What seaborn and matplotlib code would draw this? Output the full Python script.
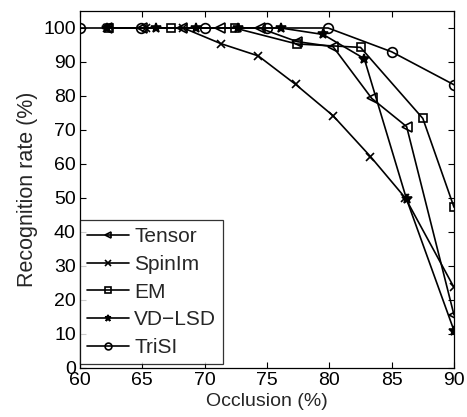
import matplotlib
matplotlib.use('Agg')
import matplotlib.pyplot as plt
import seaborn as sns

# occlusion (%) and recognition rate (%) per method
tensor_x = [62.2, 65.0, 68.2, 71.2, 74.4, 77.4, 80.3, 83.4, 86.2, 90.0]
tensor_y = [100, 100, 100, 100, 100, 96.0, 94.5, 79.3, 71.0, 15.6]

spinim_x = [62.2, 65.3, 68.3, 71.3, 74.3, 77.3, 80.3, 83.3, 86.1, 90.0]
spinim_y = [100, 100, 100, 95.4, 91.8, 83.4, 74.2, 62.2, 50.0, 23.7]

em_x = [62.3, 67.3, 72.4, 77.4, 82.5, 87.5, 90.0]
em_y = [100, 100, 100, 95.3, 94.3, 73.4, 47.3]

vdlsd_x = [62.2, 66.1, 69.3, 72.7, 76.1, 79.5, 82.8, 86.2, 90.0]
vdlsd_y = [100, 100, 100, 100, 100, 98.1, 91.0, 49.6, 11.0]

trisi_x = [60.0, 64.9, 70.0, 75.0, 79.9, 85.0, 90.0]
trisi_y = [100, 100, 100, 100, 100, 93.0, 83.3]

x_ticks = [60, 65, 70, 75, 80, 85, 90]
y_ticks = list(range(0, 101, 10))

sns.set_style('ticks')
plt.rcParams['font.family'] = ['Liberation Sans', 'DejaVu Sans']

fig = plt.figure(figsize=(4.67, 4.17), dpi=100)
ax = fig.add_axes([80 / 467, 49 / 417, 374 / 467, 357 / 417])

series = [
    ('Tensor', tensor_x, tensor_y, '<', 'none', 7),
    ('SpinIm', spinim_x, spinim_y, 'x', 'k', 6),
    ('EM', em_x, em_y, 's', 'none', 6),
    ('VD\u2212LSD', vdlsd_x, vdlsd_y, '*', 'k', 7),
    ('TriSI', trisi_x, trisi_y, 'o', 'none', 7),
]
for name, xs, ys, mk, face, ms in series:
    sns.lineplot(x=xs, y=ys, ax=ax, color='k', linewidth=1.2, marker=mk,
                 markersize=ms, markerfacecolor=face, markeredgecolor='k',
                 markeredgewidth=1.2, sort=False, label=name)

ax.set_xlim(60, 90)
ax.set_ylim(0, 105)
ax.set_xticks(x_ticks)
ax.set_yticks(y_ticks)
ax.tick_params(direction='in', top=True, right=True, labelsize=14,
               length=4, width=0.8, colors='k', pad=3)
for sp in ax.spines.values():
    sp.set_color('k')
    sp.set_linewidth(0.9)

ax.set_xlabel('Occlusion (%)', fontsize=14, labelpad=3)
ax.set_ylabel('Recognition rate (%)', fontsize=15.5, labelpad=4)

leg = ax.legend(loc='lower left', bbox_to_anchor=(0, 0.01), borderaxespad=0,
                fontsize=15, frameon=True, fancybox=False, markerscale=0.7,
                handlelength=2.0, handletextpad=0.25, labelspacing=0.42,
                borderpad=0.35)
leg.get_frame().set_edgecolor('k')
leg.get_frame().set_linewidth(0.9)

fig.savefig('out.png', dpi=100)
